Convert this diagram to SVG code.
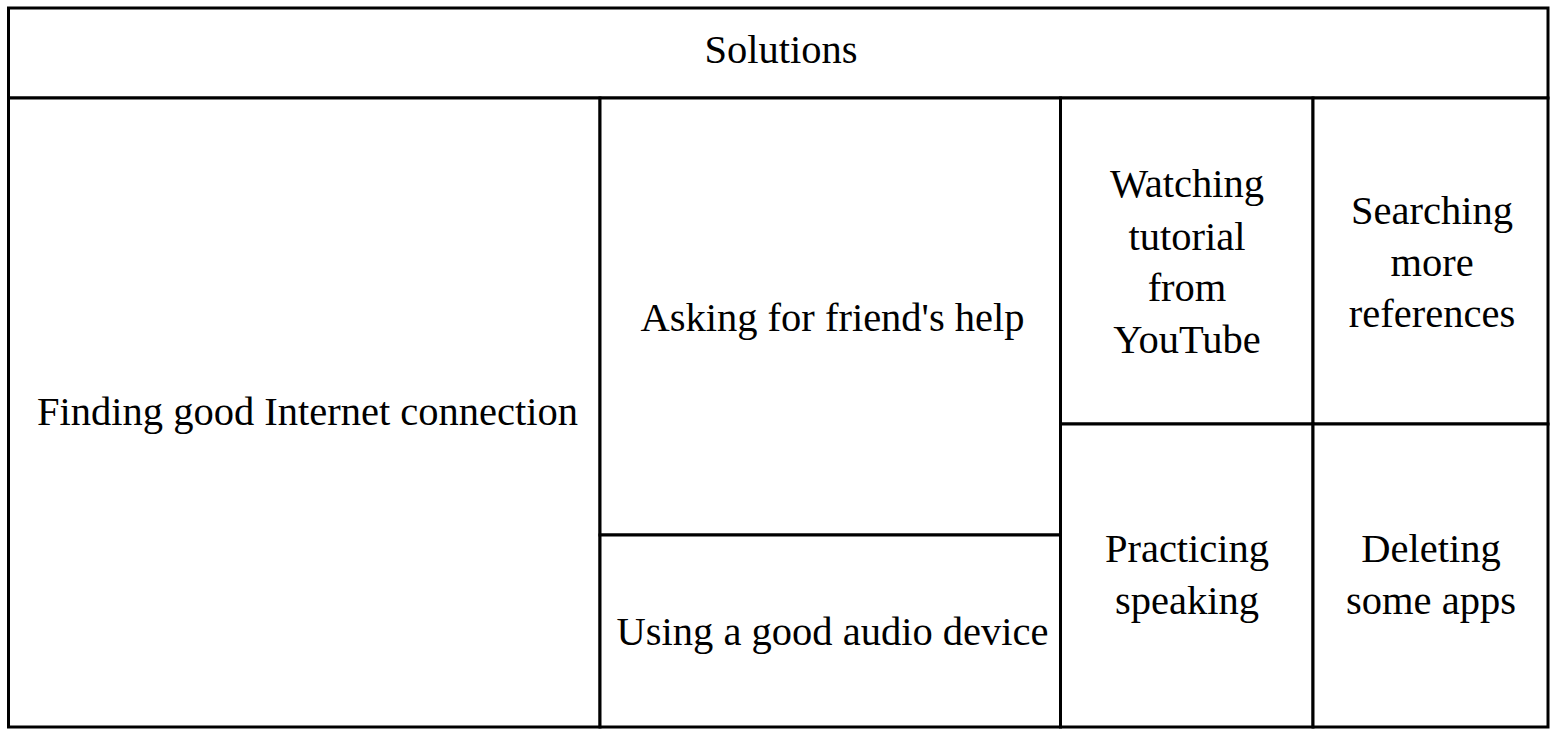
<svg xmlns="http://www.w3.org/2000/svg" width="1557" height="735" viewBox="0 0 1557 735">
<style>
.cell{fill:#fff;stroke:#000;stroke-width:3}
.t{font-family:"Liberation Serif","Times New Roman",serif;font-size:40.5px;fill:#000;text-anchor:middle}
</style>
<rect width="1557" height="735" fill="#fff"/>
<g id="header"><rect class="cell" x="8.5" y="8" width="1539.5" height="90"/><text class="t" x="781" y="63">Solutions</text></g>
<g id="internet"><rect class="cell" x="8.5" y="98" width="591.5" height="629"/><text class="t" x="307.5" y="425">Finding good Internet connection</text></g>
<g id="friend"><rect class="cell" x="600" y="98" width="460.5" height="437"/><text class="t" x="832.5" y="331">Asking for friend's help</text></g>
<g id="audio"><rect class="cell" x="600" y="535" width="460.5" height="192"/><text class="t" x="832.5" y="645">Using a good audio device</text></g>
<g id="youtube"><rect class="cell" x="1060.5" y="98" width="252.5" height="326"/><text class="t" x="1187" y="197">Watching<tspan x="1187" y="249.5">tutorial</tspan><tspan x="1187" y="301">from</tspan><tspan x="1187" y="353">YouTube</tspan></text></g>
<g id="references"><rect class="cell" x="1313" y="98" width="235" height="326"/><text class="t" x="1432" y="224">Searching<tspan x="1432" y="276">more</tspan><tspan x="1432" y="327">references</tspan></text></g>
<g id="speaking"><rect class="cell" x="1060.5" y="424" width="252.5" height="303"/><text class="t" x="1187" y="562">Practicing<tspan x="1187" y="614">speaking</tspan></text></g>
<g id="apps"><rect class="cell" x="1313" y="424" width="235" height="303"/><text class="t" x="1431" y="562">Deleting<tspan x="1431" y="614">some apps</tspan></text></g>
<g id="connectors"></g>
</svg>
